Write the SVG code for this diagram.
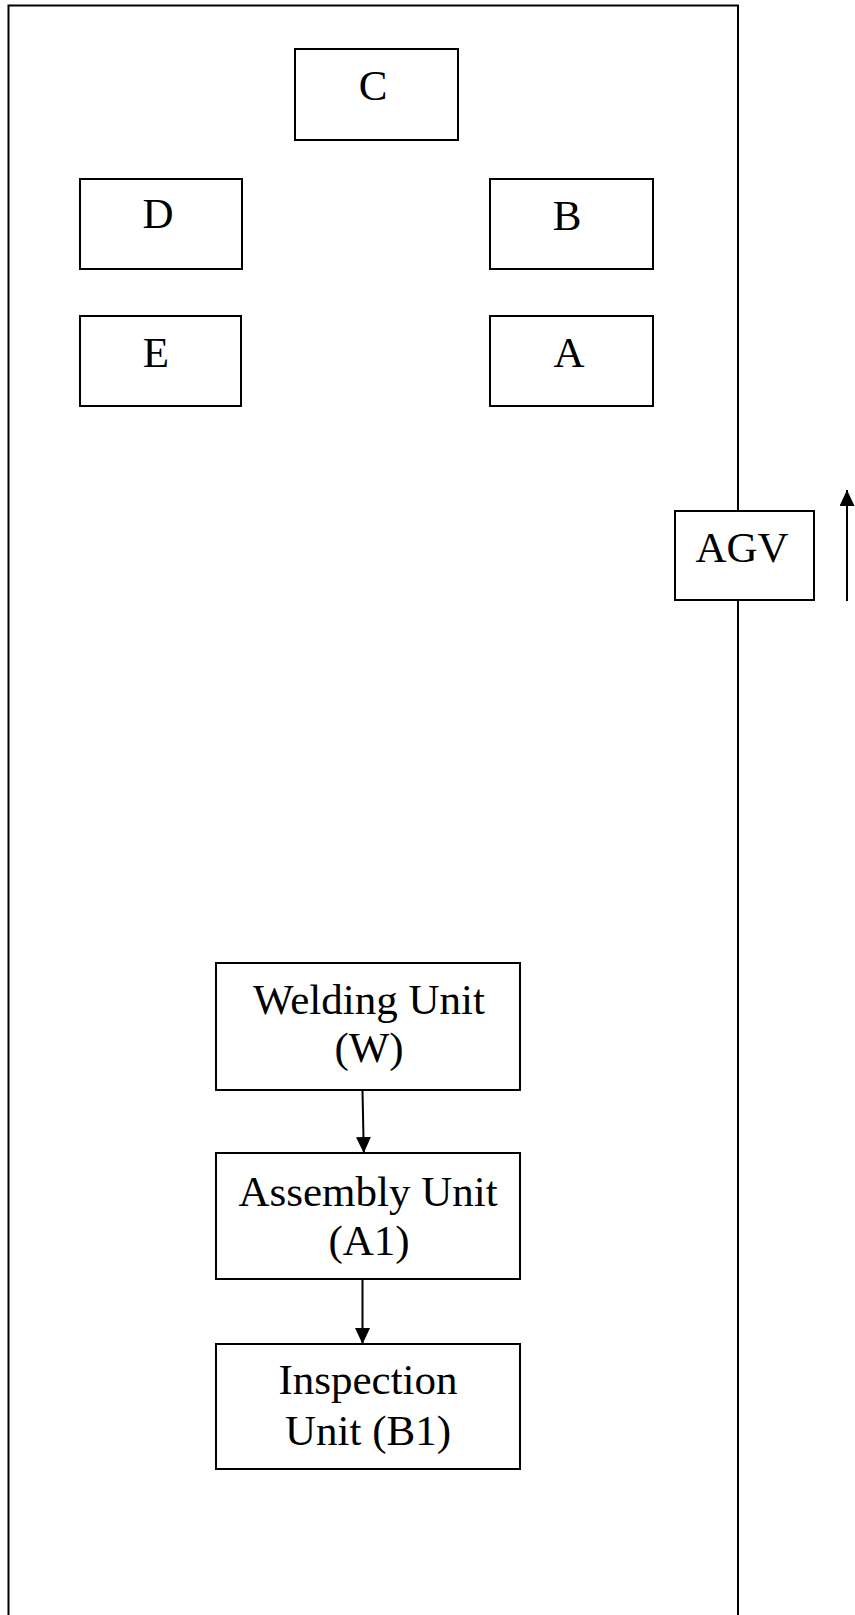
<svg xmlns="http://www.w3.org/2000/svg" width="855" height="1615" viewBox="0 0 855 1615">
<style>
.box{fill:#fff;stroke:#000;stroke-width:2}
.lbl{font-family:"Liberation Serif","Times New Roman",serif;font-size:43px;fill:#000;text-anchor:middle}
.con{stroke:#000;stroke-width:2;fill:none}
</style>
<defs>
<marker id="ahb" markerWidth="16" markerHeight="15" refX="16" refY="7.5" orient="auto" markerUnits="userSpaceOnUse" viewBox="0 0 16 15">
<path d="M0,0 L16,7.5 L0,15 Z" fill="#000"/>
</marker>
</defs>
<rect x="0" y="0" width="855" height="1615" fill="#fff"/>
<g id="floor"><path d="M8.5,1620 L8.5,5.5 L738,5.5 L738,1620" class="con"/></g>
<g id="node-C"><rect class="box" x="295" y="49" width="163" height="91"/><text class="lbl" x="373" y="100">C</text></g>
<g id="node-D"><rect class="box" x="80" y="179" width="162" height="90"/><text class="lbl" x="158" y="228">D</text></g>
<g id="node-E"><rect class="box" x="80" y="316" width="161" height="90"/><text class="lbl" x="156" y="367">E</text></g>
<g id="node-B"><rect class="box" x="490" y="179" width="163" height="90"/><text class="lbl" x="567" y="230">B</text></g>
<g id="node-A"><rect class="box" x="490" y="316" width="163" height="90"/><text class="lbl" x="569" y="367">A</text></g>
<g id="node-AGV"><rect class="box" x="675" y="511" width="139" height="89"/><text class="lbl" x="742" y="562">AGV</text></g>
<g id="node-W"><rect class="box" x="216" y="963" width="304" height="127"/><text class="lbl" x="369" y="1014">Welding Unit</text><text class="lbl" x="369" y="1062">(W)</text></g>
<g id="node-A1"><rect class="box" x="216" y="1153" width="304" height="126"/><text class="lbl" x="368" y="1206">Assembly Unit</text><text class="lbl" x="369" y="1255">(A1)</text></g>
<g id="node-B1"><rect class="box" x="216" y="1344" width="304" height="125"/><text class="lbl" x="368" y="1394">Inspection</text><text class="lbl" x="368" y="1445">Unit (B1)</text></g>
<g id="connectors">
<line class="con" x1="362.5" y1="1091" x2="363.8" y2="1153" marker-end="url(#ahb)"/>
<line class="con" x1="362.5" y1="1280" x2="362.5" y2="1344" marker-end="url(#ahb)"/>
<line class="con" x1="847" y1="601" x2="847" y2="490" marker-end="url(#ahb)"/>
</g>
</svg>
